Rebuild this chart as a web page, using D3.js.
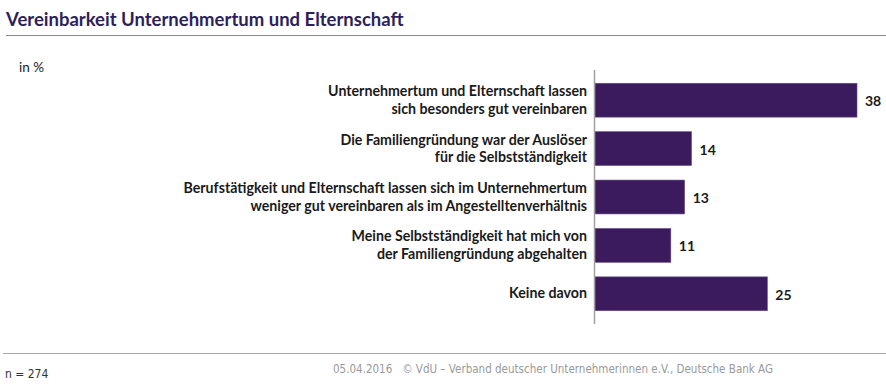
<!DOCTYPE html>
<html>
<head>
<meta charset="utf-8">
<script src="https://cdn.jsdelivr.net/npm/d3@7"></script>
<style>
  body { margin: 0; background: #fff; }
  text { font-family: Lato, "Open Sans", sans-serif; }
</style>
</head>
<body>
<script>
// chart data
var categories = [
    ["Unternehmertum und Elternschaft lassen", "sich besonders gut vereinbaren"],
    ["Die Familiengründung war der Auslöser", "für die Selbstständigkeit"],
    ["Berufstätigkeit und Elternschaft lassen sich im Unternehmertum", "weniger gut vereinbaren als im Angestelltenverhältnis"],
    ["Meine Selbstständigkeit hat mich von", "der Familiengründung abgehalten"],
    ["Keine davon"]
];
var values = [38, 14, 13, 11, 25];
var titleText = "Vereinbarkeit Unternehmertum und Elternschaft";
var unitText = "in %";
var nText = "n = 274";
var sourceText = "05.04.2016   © VdU – Verband deutscher Unternehmerinnen e.V., Deutsche Bank AG";

var w = 886, h = 385;

var svg = d3.select("body")
    .append("svg")
    .attr("width", w)
    .attr("height", h);

//title
svg.append("text")
    .attr("x", 6)
    .attr("y", 26)
    .style("font-size", "18.5px")
    .style("font-weight", "700")
    .style("fill", "#2d1f5a")
    .text(titleText);

svg.append("line")
    .attr("x1", 6).attr("x2", w)
    .attr("y1", 35.5).attr("y2", 35.5)
    .style("stroke", "#8c8c8c")
    .style("stroke-width", 1);

svg.append("text")
    .attr("x", 19)
    .attr("y", 72)
    .style("font-size", "13.5px")
    .style("fill", "#1a1a1a")
    .text(unitText);

//scales
var x0 = 595;
var x = d3.scaleLinear()
    .domain([0, 38])
    .range([x0, x0 + 262]);

var y = d3.scaleBand()
    .domain(d3.range(values.length))
    .range([76, 318])
    .paddingInner(0.3)
    .paddingOuter(0.15);

//bars
svg.selectAll(".bar")
    .data(values)
    .enter()
    .append("rect")
    .attr("class", "bar")
    .attr("x", x(0))
    .attr("y", function(d, i){ return y(i); })
    .attr("width", function(d){ return x(d) - x(0); })
    .attr("height", y.bandwidth())
    .style("fill", "#3b1b5e")
    .style("stroke", "#6a4f8a")
    .style("stroke-width", 0.6);

//axis line
svg.append("line")
    .attr("x1", x0 - 0.5).attr("x2", x0 - 0.5)
    .attr("y1", 70).attr("y2", 324)
    .style("stroke", "#a0a0a0")
    .style("stroke-width", 1.5);

//value labels
svg.selectAll(".val")
    .data(values)
    .enter()
    .append("text")
    .attr("class", "val")
    .attr("x", function(d){ return x(d) + 8; })
    .attr("y", function(d, i){ return y(i) + y.bandwidth() / 2 + 6; })
    .style("font-size", "14px")
    .style("font-weight", "700")
    .style("fill", "#1a1a1a")
    .text(function(d){ return d; });

//category labels
var labels = svg.selectAll(".cat")
    .data(categories)
    .enter()
    .append("text")
    .attr("class", "cat")
    .attr("text-anchor", "end")
    .style("font-size", "14.2px")
    .style("font-weight", "700")
    .style("fill", "#1a1a1a")
    .attr("y", function(d, i){
        var c = y(i) + y.bandwidth() / 2;
        return c - (d.length - 1) * 8.5 + 4.5;
    });

labels.selectAll("tspan")
    .data(function(d){ return d; })
    .enter()
    .append("tspan")
    .attr("x", 587)
    .attr("dy", function(d, i){ return i === 0 ? 0 : 17.5; })
    .text(function(d){ return d; });

//footer
svg.append("line")
    .attr("x1", 3).attr("x2", w)
    .attr("y1", 353.5).attr("y2", 353.5)
    .style("stroke", "#a8a8a8")
    .style("stroke-width", 1.2);

svg.append("text")
    .attr("x", 5)
    .attr("y", 378)
    .style("font-family", "'Liberation Sans Narrow', 'DejaVu Sans Condensed', sans-serif")
    .style("font-size", "12px")
    .style("fill", "#333")
    .text(nText);

svg.append("text")
    .attr("x", 333)
    .attr("y", 373)
    .attr("textLength", 440)
    .attr("lengthAdjust", "spacingAndGlyphs")
    .style("font-family", "'Liberation Sans Narrow', 'DejaVu Sans Condensed', sans-serif")
    .style("font-size", "13px")
    .style("fill", "#9a9a9a")
    .style("white-space", "pre")
    .text(sourceText);
</script>
</body>
</html>
